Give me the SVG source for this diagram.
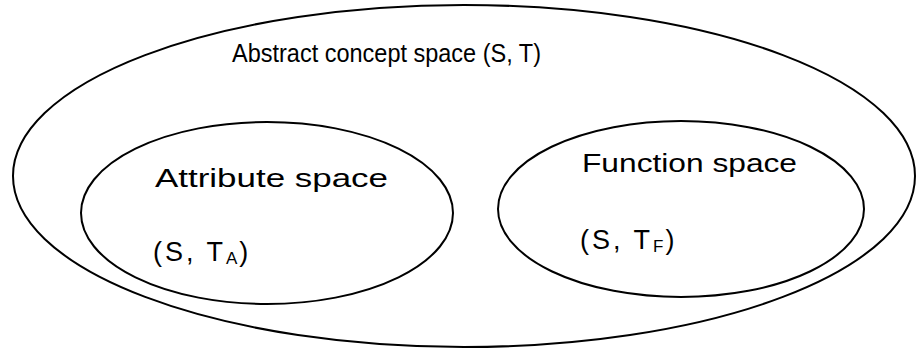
<svg xmlns="http://www.w3.org/2000/svg" width="917" height="349" viewBox="0 0 917 349">
<style>
.sh{fill:none;stroke:#000;stroke-width:2}
.t{font-family:"Liberation Sans","DejaVu Sans",sans-serif;font-size:26px;fill:#000}
.p{font-size:27px;letter-spacing:3px}
.sub{font-size:17px;letter-spacing:0}
</style>
<rect width="917" height="349" fill="#fff"/>
<g id="abstract">
<ellipse class="sh" cx="464" cy="176" rx="451" ry="171"/>
<text class="t" x="232" y="62" textLength="309" lengthAdjust="spacingAndGlyphs">Abstract concept space (S, T)</text>
</g>
<g id="attribute">
<ellipse class="sh" cx="267" cy="213" rx="186" ry="91"/>
<text class="t" x="155" y="187" textLength="233" lengthAdjust="spacingAndGlyphs">Attribute space</text>
<text class="t p" x="153" y="261">(S, T<tspan class="sub" dy="3">A</tspan><tspan dy="-3" dx="2">)</tspan></text>
</g>
<g id="function">
<ellipse class="sh" cx="681" cy="209" rx="183" ry="88"/>
<text class="t" x="582" y="172" textLength="215" lengthAdjust="spacingAndGlyphs">Function space</text>
<text class="t p" x="580" y="249">(S, T<tspan class="sub" dy="3">F</tspan><tspan dy="-3" dx="2">)</tspan></text>
</g>
<g id="connectors"/>
</svg>
